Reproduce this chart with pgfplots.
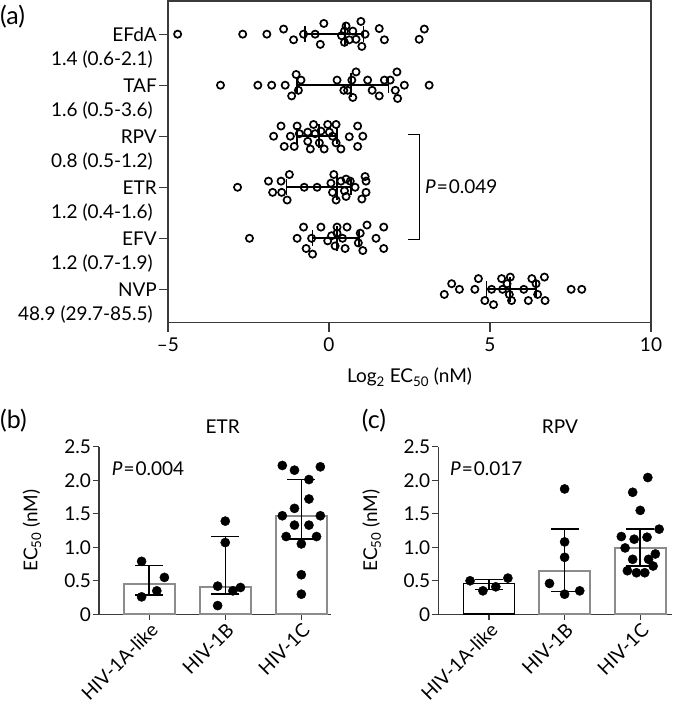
\documentclass[border=0pt]{standalone}
\usepackage{pgfplots}
\pgfplotsset{compat=1.18}
\usepackage{pgfplotstable}
\usepackage{fontspec}
\setmainfont{Lato}
\definecolor{bargray}{HTML}{8C8C8C}
\definecolor{axisgray}{HTML}{3A3A3A}

\pgfplotstableread{
x y
-4.70 1.00
-2.68 1.00
-1.93 1.00
-1.41 0.90
-1.10 1.11
-0.79 1.00
-0.43 1.00
-0.27 1.20
-0.16 0.79
0.39 1.03
0.48 0.94
0.53 0.84
0.48 1.16
0.63 1.11
0.74 0.94
0.84 1.10
0.99 0.75
1.12 1.00
1.02 1.24
1.56 0.89
1.72 1.11
2.80 1.10
2.96 0.90
}\efda
\pgfplotstableread{
x y
-3.37 2.00
-2.21 2.00
-1.78 2.00
-1.36 2.00
-1.02 1.79
-0.87 1.90
-0.95 2.10
-1.16 2.21
0.25 1.90
0.46 2.10
0.58 2.10
0.71 1.90
0.74 2.24
0.84 1.74
1.20 1.90
1.34 2.10
1.56 2.21
1.72 1.90
1.90 1.90
2.11 1.74
2.06 2.10
2.13 2.26
2.34 2.00
3.11 2.00
}\taf
\pgfplotstableread{
x y
-1.49 2.80
-0.99 2.80
-0.48 2.77
-0.04 2.77
0.22 2.77
0.89 2.80
-1.72 3.00
-1.20 3.00
-0.92 2.95
-0.66 2.92
-0.43 2.95
-0.25 2.90
0.01 2.92
0.11 3.00
0.63 3.01
1.05 3.00
-1.39 3.20
-1.08 3.20
-0.66 3.10
-0.58 3.25
-0.30 3.13
-0.15 3.25
0.22 3.13
0.37 3.25
0.89 3.20
}\rpv
\pgfplotstableread{
x y
-2.84 4.00
-1.88 3.88
-1.49 3.88
-1.75 4.10
-1.47 4.10
-1.23 3.75
-1.30 4.25
-0.77 4.00
-0.37 4.00
0.15 3.75
0.06 3.92
0.11 4.10
0.22 4.25
0.37 3.88
0.53 3.84
0.48 4.07
0.53 4.18
0.66 3.88
0.81 4.00
1.12 3.79
1.15 3.88
1.15 4.10
1.02 4.23
}\etr
\pgfplotstableread{
x y
-2.47 5.00
-0.79 4.78
-0.25 4.78
0.25 4.78
0.56 4.78
1.18 4.74
1.70 4.78
-0.99 5.00
-0.54 5.00
-0.04 5.05
0.08 4.95
0.25 4.90
0.42 5.00
0.97 4.90
0.91 5.09
1.46 5.00
-0.71 5.20
-0.51 5.31
0.19 5.15
0.50 5.20
1.05 5.24
1.70 5.20
}\efv
\pgfplotstableread{
x y
3.58 6.10
3.81 5.89
4.05 6.00
4.53 6.00
4.64 5.79
4.84 6.22
5.11 6.30
5.05 6.00
5.36 5.79
5.39 6.00
5.53 5.89
5.63 5.76
5.60 6.10
5.67 6.22
6.05 6.00
6.19 6.22
6.30 5.79
6.43 5.89
6.48 6.10
6.69 5.76
6.71 6.22
7.52 6.00
7.85 6.00
}\nvp

\pgfplotstableread{
x y em ep
0 0.45 0.16 0.28
1 0.41 0.11 0.75
2 1.47 0.35 0.54
}\etrbars
\pgfplotstableread{
x y
-0.10 0.79
0.20 0.55
0.10 0.35
-0.10 0.26
1.00 1.39
1.00 1.07
0.90 0.42
1.10 0.35
1.20 0.40
0.90 0.13
1.75 2.22
2.25 2.20
1.91 2.15
2.10 2.01
2.10 1.72
1.91 1.58
1.75 1.47
2.25 1.47
1.91 1.33
2.10 1.33
1.80 1.16
2.20 1.16
2.00 1.05
2.00 0.59
2.00 0.30
}\etrpts
\pgfplotstableread{
x y em ep
0 0.46 0.09 0.06
1 0.65 0.31 0.62
2 0.99 0.27 0.28
}\rpvbars
\pgfplotstableread{
x y
-0.25 0.50
-0.08 0.35
0.09 0.41
0.25 0.54
1.00 1.87
1.00 1.08
1.00 0.85
0.80 0.46
1.00 0.30
1.20 0.35
2.10 2.04
1.90 1.82
2.00 1.55
2.25 1.27
1.75 1.16
1.92 1.12
2.09 1.15
1.80 0.99
2.20 0.90
1.90 0.82
2.11 0.82
2.17 0.72
1.83 0.65
1.95 0.62
2.06 0.62
}\rpvpts

\begin{document}
\fontsize{19}{22}\selectfont
\begin{tikzpicture}
\useasboundingbox (0pt,0pt) rectangle (691pt,704pt);

% ---------------- panel (a)
\begin{axis}[
  at={(168pt,381.5pt)}, anchor=south west, scale only axis,
  width=483pt, height=321.5pt,
  xmin=-5, xmax=10, ymin=0.35, ymax=6.65, y dir=reverse,
  xtick={-5,0,5,10}, xticklabels={–5,0,5,10},
  ytick={1,2,3,4,5,6}, yticklabels={EFdA,TAF,RPV,ETR,EFV,NVP},
  tick align=outside, xtick pos=bottom, ytick pos=left,
  major tick length=9pt,
  yticklabel style={inner sep=2pt},
  axis line style={axisgray, line width=1.3pt},
  tick style={axisgray, line width=1.3pt},
  xlabel={Log\textsubscript{2} EC\textsubscript{50} (nM)},
  xlabel style={at={(axis description cs:0.5,0)}, anchor=center, yshift=-54.5pt},
  clip=false,
  unbounded coords=jump,
]
\pgfplotsset{circ/.style={only marks, mark=o, mark size=3.6pt, black, mark options={line width=1.7pt}},
             iqr/.style={black, line width=1.8pt, mark=none}}
\addplot[circ] table {\efda};
\addplot[circ] table {\taf};
\addplot[circ] table {\rpv};
\addplot[circ] table {\etr};
\addplot[circ] table {\efv};
\addplot[circ] table {\nvp};
% median and interquartile range (from the labels, log2)
\addplot[iqr] coordinates {(-0.74,1)(1.07,1) (nan,nan) (-0.74,0.84)(-0.74,1.16) (nan,nan) (1.07,0.84)(1.07,1.16) (nan,nan) (0.49,0.76)(0.49,1.24)};
\addplot[iqr] coordinates {(-1.00,2)(1.85,2) (nan,nan) (-1.00,1.84)(-1.00,2.16) (nan,nan) (1.85,1.84)(1.85,2.16) (nan,nan) (0.68,1.76)(0.68,2.24)};
\addplot[iqr] coordinates {(-1.00,3)(0.26,3) (nan,nan) (-1.00,2.84)(-1.00,3.16) (nan,nan) (0.26,2.84)(0.26,3.16) (nan,nan) (-0.32,2.76)(-0.32,3.24)};
\addplot[iqr] coordinates {(-1.32,4)(0.68,4) (nan,nan) (-1.32,3.84)(-1.32,4.16) (nan,nan) (0.68,3.84)(0.68,4.16) (nan,nan) (0.26,3.76)(0.26,4.24)};
\addplot[iqr] coordinates {(-0.51,5)(0.93,5) (nan,nan) (-0.51,4.84)(-0.51,5.16) (nan,nan) (0.93,4.84)(0.93,5.16) (nan,nan) (0.26,4.76)(0.26,5.24)};
\addplot[iqr] coordinates {(4.89,6)(6.42,6) (nan,nan) (4.89,5.84)(4.89,6.16) (nan,nan) (6.42,5.84)(6.42,6.16) (nan,nan) (5.61,5.76)(5.61,6.24)};
% bracket
\addplot[black, line width=1.3pt, mark=none] coordinates {(2.44,2.96)(2.80,2.96)(2.80,5.02)(2.44,5.02)};
\node[anchor=west, inner sep=0pt] at (axis cs:2.98,3.98) {\textit{P}\kern1pt=\kern1pt0.049};
% median (IQR) labels
\node[anchor=east, inner sep=0pt, xshift=-15pt] at (axis cs:-5,1.5) {1.4 (0.6-2.1)};
\node[anchor=east, inner sep=0pt, xshift=-15pt] at (axis cs:-5,2.5) {1.6 (0.5-3.6)};
\node[anchor=east, inner sep=0pt, xshift=-15pt] at (axis cs:-5,3.5) {0.8 (0.5-1.2)};
\node[anchor=east, inner sep=0pt, xshift=-15pt] at (axis cs:-5,4.5) {1.2 (0.4-1.6)};
\node[anchor=east, inner sep=0pt, xshift=-15pt] at (axis cs:-5,5.5) {1.2 (0.7-1.9)};
\node[anchor=east, inner sep=0pt, xshift=-15pt] at (axis cs:-5,6.5) {48.9 (29.7-85.5)};
\end{axis}

% ---------------- panel (b)
\begin{axis}[
  at={(99pt,89.7pt)}, anchor=south west, scale only axis,
  width=232pt, height=167.6pt,
  xmin=-0.66, xmax=2.39, ymin=0, ymax=2.5,
  axis x line*=bottom, axis y line*=left,
  xtick={0,1,2}, xticklabels={HIV-1A-like,HIV-1B,HIV-1C},
  ytick={0,0.5,1,1.5,2,2.5}, yticklabels={0,0.5,1.0,1.5,2.0,2.5},
  tick align=outside, major tick length=6pt,
  axis line style={axisgray, line width=1.3pt},
  tick style={axisgray, line width=1.3pt},
  xticklabel style={rotate=45, anchor=north east, inner sep=1pt},
  yticklabel style={inner sep=2pt},
  ylabel={EC\textsubscript{50} (nM)},
  ylabel style={at={(axis description cs:-0.289,0.5)}, anchor=center},
  clip=false,
]
\addplot[ybar, bar shift=0pt, bar width=51pt, fill=white, draw=bargray, line width=1.7pt] table[x=x,y=y] {\etrbars};
\addplot[black, only marks, mark=*, mark size=0pt,
  error bars/.cd, y dir=both, y explicit, error mark=|,
  error bar style={black, line width=1.5pt},
  error mark options={black, line width=1.5pt, mark size=14pt}]
  table[x=x, y=y, y error minus=em, y error plus=ep] {\etrbars};
\addplot[only marks, mark=*, mark size=4.6pt, black] table {\etrpts};
\end{axis}

% ---------------- panel (c)
\begin{axis}[
  at={(438.3pt,89.7pt)}, anchor=south west, scale only axis,
  width=233.7pt, height=167.6pt,
  xmin=-0.67, xmax=2.42, ymin=0, ymax=2.5,
  axis x line*=bottom, axis y line*=left,
  xtick={0,1,2}, xticklabels={HIV-1A-like,HIV-1B,HIV-1C},
  ytick={0,0.5,1,1.5,2,2.5}, yticklabels={0,0.5,1.0,1.5,2.0,2.5},
  tick align=outside, major tick length=6pt,
  axis line style={axisgray, line width=1.3pt},
  tick style={axisgray, line width=1.3pt},
  xticklabel style={rotate=45, anchor=north east, inner sep=1pt},
  yticklabel style={inner sep=2pt},
  ylabel={EC\textsubscript{50} (nM)},
  ylabel style={at={(axis description cs:-0.285,0.5)}, anchor=center},
  clip=false,
]
\addplot[ybar, bar shift=0pt, bar width=51pt, fill=white, draw=black, line width=1.7pt] coordinates {(0,0.46)};
\addplot[ybar, bar shift=0pt, bar width=51pt, fill=white, draw=bargray, line width=1.7pt] coordinates {(1,0.65) (2,0.99)};
\addplot[black, only marks, mark=*, mark size=0pt,
  error bars/.cd, y dir=both, y explicit, error mark=|,
  error bar style={black, line width=1.5pt},
  error mark options={black, line width=1.5pt, mark size=14pt}]
  table[x=x, y=y, y error minus=em, y error plus=ep] {\rpvbars};
\addplot[only marks, mark=*, mark size=4.6pt, black] table {\rpvpts};
\end{axis}

% ---------------- texts
\node[anchor=west, inner sep=0pt, font=\fontsize{25}{29}\selectfont] at (0pt,687pt) {(a)};
\node[anchor=west, inner sep=0pt, font=\fontsize{25}{29}\selectfont] at (0pt,283pt) {(b)};
\node[anchor=west, inner sep=0pt, font=\fontsize{25}{29}\selectfont] at (361.7pt,283pt) {(c)};
\node at (222.7pt,277.3pt) {ETR};
\node at (560pt,277.3pt) {RPV};
\node[anchor=west, inner sep=0pt] at (111.7pt,235pt) {\textit{P}\kern1pt=\kern1pt0.004};
\node[anchor=west, inner sep=0pt] at (450pt,235pt) {\textit{P}\kern1pt=\kern1pt0.017};
\end{tikzpicture}
\end{document}
